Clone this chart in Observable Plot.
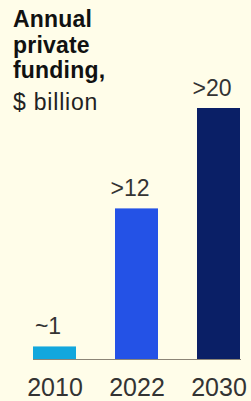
<!DOCTYPE html>
<html>
<head>
<meta charset="utf-8">
<script src="https://cdn.jsdelivr.net/npm/d3@7"></script>
<script src="https://cdn.jsdelivr.net/npm/@observablehq/plot@0.6"></script>
<style>
  html, body { margin: 0; padding: 0; background: #FFFDE9; }
  #wrap { position: relative; width: 251px; height: 401px; overflow: hidden; font-family: "Liberation Sans", Arial, sans-serif; }
  #title { position: absolute; left: 13px; top: 7px; color: #111; font-size: 23px; line-height: 25.5px; font-weight: bold; letter-spacing: 0.2px; }
  #sub { font-weight: normal; margin-top: 6px; color: #222; letter-spacing: 0.8px; }
</style>
</head>
<body>
<div id="wrap">
  <div id="chart"></div>
  <div id="title">Annual<br>private<br>funding,<div id="sub">$ billion</div></div>
</div>
<script>
const years = ["2010", "2022", "2030"];
const values = [1, 12, 20];
const labels = ["~1", ">12", ">20"];
const colors = ["#12A7DD", "#2452E6", "#0A1F66"];

const data = years.map((y, i) => ({year: y, value: values[i], label: labels[i], color: colors[i]}));

const chart = Plot.plot({
  width: 251,
  height: 401,
  marginLeft: 33,
  marginRight: 10,
  marginTop: 108,
  marginBottom: 42,
  style: {background: "transparent", fontFamily: "Liberation Sans, Arial, sans-serif"},
  x: {domain: years, padding: 0.47, paddingOuter: 0, axis: null},
  y: {domain: [0, 20], axis: null},
  marks: [
    Plot.barY(data, {x: "year", y: "value", fill: "color"}),
    Plot.ruleY([0], {stroke: "#8C8577", strokeWidth: 1.2}),
    Plot.text(data, {x: "year", y: "value", text: "label", dx: -7, dy: -20, fontSize: 23, fill: "#333", letterSpacing: 1}),
    Plot.axisX({tickSize: 0, tickPadding: 19, fontSize: 25, color: "#333", label: null})
  ]
});
document.getElementById("chart").appendChild(chart);
</script>
</body>
</html>
